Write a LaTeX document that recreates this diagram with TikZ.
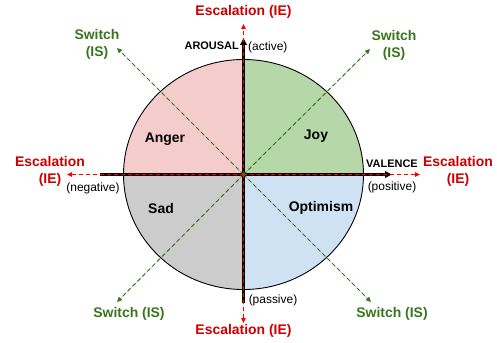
\documentclass[tikz,border=0pt]{standalone}
\usepackage{fontspec}
\setmainfont{Liberation Sans}
\usetikzlibrary{arrows.meta}
\definecolor{qpink}{HTML}{F4CCCC}
\definecolor{qgreen}{HTML}{B6D7A8}
\definecolor{qgray}{HTML}{CCCCCC}
\definecolor{qblue}{HTML}{CFE2F3}
\definecolor{escred}{HTML}{CC0000}
\definecolor{arrred}{HTML}{FF0000}
\definecolor{swgreen}{HTML}{38761D}
\tikzset{
  esc/.style={text=escred,font=\fontsize{14}{17}\selectfont\bfseries,align=center,inner sep=0pt},
  sw/.style={text=swgreen,font=\fontsize{14}{17}\selectfont\bfseries,align=center,inner sep=0pt},
  emo/.style={font=\fontsize{14}{17}\selectfont\bfseries,inner sep=0pt},
  axlab/.style={font=\fontsize{11}{13}\selectfont\bfseries,inner sep=0pt},
  pole/.style={font=\fontsize{12}{14}\selectfont,inner sep=0pt},
  axisline/.style={line width=2.2pt,-{Triangle[length=7pt,width=6.5pt]}},
  escarrow/.style={draw=arrred,fill=arrred,line width=1pt,dash pattern=on 4pt off 3pt,-{Triangle[length=5pt,width=4.5pt]}},
  swarrow/.style={draw=swgreen,fill=swgreen,line width=1pt,dash pattern=on 4pt off 3pt,-{Triangle[length=5pt,width=4.5pt]}}
}
\begin{document}
\begin{tikzpicture}[x=1bp,y=-1bp]
\useasboundingbox (0,0) rectangle (497,342);
\coordinate (C) at (243.5,174.5);
% quadrants
\begin{scope}
\clip (C) ellipse [x radius=120, y radius=115];
\fill[qpink] (C) rectangle (100,40);
\fill[qgreen] (C) rectangle (380,40);
\fill[qgray] (C) rectangle (100,310);
\fill[qblue] (C) rectangle (380,310);
\end{scope}
\draw[line width=0.9pt] (C) ellipse [x radius=120, y radius=115];
% axis coordinates
\coordinate (Hl) at (100,174.5);
\coordinate (Hr) at (392,174.5);
\coordinate (Vb) at (243.5,303);
\coordinate (Vt) at (243.5,38);
\coordinate (El) at (67,174.5);
\coordinate (Er) at (420,174.5);
\coordinate (Et) at (243.5,24);
\coordinate (Eb) at (243.5,323);
\coordinate (Stl) at (117,48);
\coordinate (Str) at (370,49);
\coordinate (Sbl) at (117,302);
\coordinate (Sbr) at (371,302);
% black axes
\draw[axisline] (Hl) -- (Hr);
\draw[axisline] (Vb) -- (Vt);
% red escalation
\draw[escarrow] (C) -- (El);
\draw[escarrow] (C) -- (Er);
\draw[escarrow] (C) -- (Et);
\draw[escarrow] (C) -- (Eb);
% green switches
\draw[swarrow] (C) -- (Stl);
\draw[swarrow] (C) -- (Str);
\draw[swarrow] (C) -- (Sbl);
\draw[swarrow] (C) -- (Sbr);
% labels
\node[esc] (etop) at (243.5,12) {Escalation (IE)};
\node[esc] (ebot) at (243.5,331) {Escalation (IE)};
\node[esc] (eleft) at (50,171.5) {Escalation\\(IE)};
\node[esc] (eright) at (458,171.5) {Escalation\\(IE)};
\node[sw] (stl) at (97,44.5) {Switch\\(IS)};
\node[sw] (str) at (394,45.5) {Switch\\(IS)};
\node[sw] (sbl) at (129,314) {Switch (IS)};
\node[sw] (sbr) at (392,314) {Switch (IS)};
\node[axlab,anchor=east] (arousal) at (239,46) {AROUSAL};
\node[pole,anchor=west] (active) at (248,47) {(active)};
\node[axlab,anchor=west] (valence) at (366,164) {VALENCE};
\node[pole] (positive) at (392,187) {(positive)};
\node[pole] (negative) at (93,188) {(negative)};
\node[pole] (passive) at (273,300) {(passive)};
\node[emo] (anger) at (165,139) {Anger};
\node[emo] (joy) at (316,136) {Joy};
\node[emo] (sad) at (161,209) {Sad};
\node[emo] (opt) at (321,208) {Optimism};
\end{tikzpicture}
\end{document}
